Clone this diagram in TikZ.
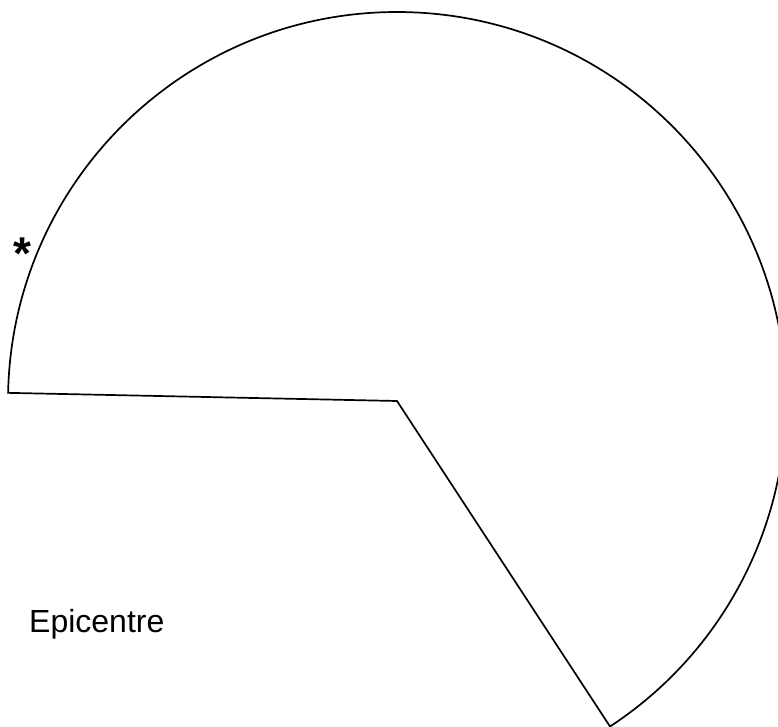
\documentclass[tikz,border=0pt]{standalone}
\usepackage{fontspec}
\setmainfont{Liberation Sans}
\usetikzlibrary{calc}
\begin{document}
\begin{tikzpicture}[x=1pt,y=1pt,
  outline/.style={draw=black, line width=1.7pt, line join=miter},
  label/.style={inner sep=0pt, font=\fontsize{32}{38}\selectfont},
  star/.style={inner sep=0pt, font=\bfseries\fontsize{46}{50}\selectfont}]
\useasboundingbox[fill=white] (0,0) rectangle (778,726);
\coordinate (c) at (397,325);
\draw[outline] (c) -- ++(178.8:389) arc[start angle=178.8, end angle=-56.8, radius=389] -- cycle;
\node[label, anchor=base west] (epi) at (29,94) {Epicentre};
\node[star] (ast) at (22,472) {*};
\end{tikzpicture}
\end{document}
